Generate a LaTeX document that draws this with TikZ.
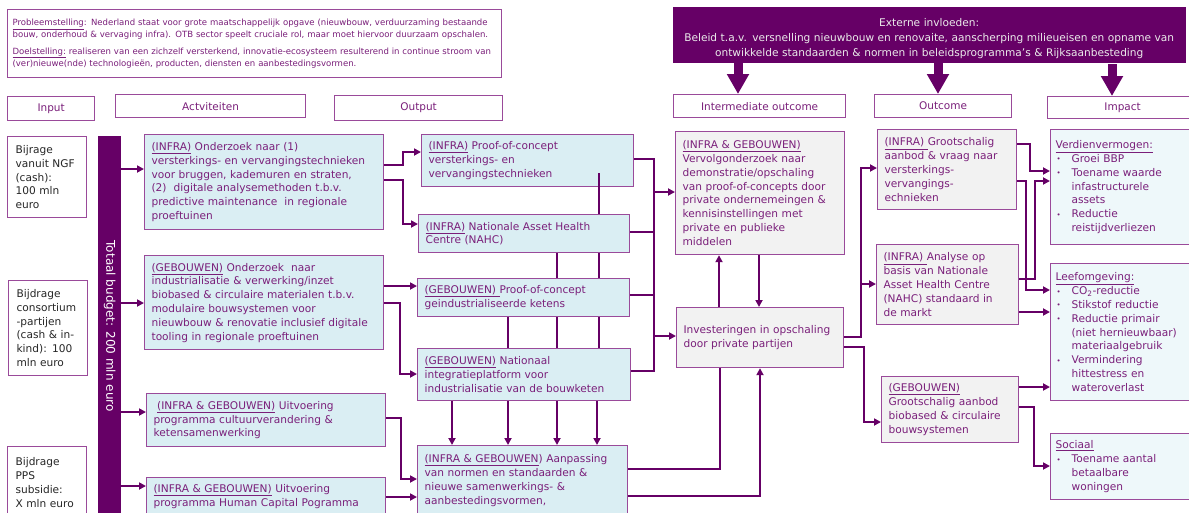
\documentclass[tikz,border=0pt]{standalone}
\usepackage{fontspec}
\setmainfont{DejaVu Sans}
\usetikzlibrary{arrows.meta}
\definecolor{dp}{HTML}{660066}
\definecolor{bord}{HTML}{9A4A9A}
\definecolor{txt}{HTML}{7A1F7A}
\definecolor{cy}{HTML}{DAEEF3}
\definecolor{gr}{HTML}{F2F2F2}
\definecolor{cyl}{HTML}{EEF8FA}
\newcommand\bl{\makebox[16pt][l]{\hspace{1pt}\raisebox{0.1ex}{\scriptsize •}}}
\newcommand\ii{\hspace*{16pt}}
\tikzset{
 bx/.style={draw=bord, line width=1.2pt, fill=#1, text=txt, align=left, anchor=north west,
   inner xsep=7pt, inner ysep=0pt, font=\fontsize{10.6}{13.8}\selectfont},
 hd/.style={draw=bord, line width=1.2pt, fill=white, text=txt, align=center, anchor=north west,
   inner sep=0pt, font=\fontsize{10.5}{13}\selectfont},
 ln/.style={draw=dp, line width=1.8pt},
 ar/.style={ln, -{Triangle[length=7pt,width=7pt]}},
 big/.style={draw=dp, line width=9pt, -{Triangle[length=20pt,width=21pt]}},
}
\begin{document}
\begin{tikzpicture}[x=1pt,y=-1pt]
\useasboundingbox (0,0) rectangle (1189,512);
\clip (0,0) rectangle (1189,512);
\fill[white] (0,0) rectangle (1189,512);

% top boxes
\node[bx=white, inner xsep=5pt, text width=484pt, minimum height=68pt, font=\fontsize{8.55}{11.8}\selectfont] (prob) at (7,9)
 {\mbox{\underline{Probleemstelling}: Nederland staat voor grote maatschappelijk opgave (nieuwbouw, verduurzaming bestaande}\\
  \mbox{bouw, onderhoud \& vervaging infra). OTB sector speelt cruciale rol, maar moet hiervoor duurzaam opschalen.}\\[5pt]
  \mbox{\underline{Doelstelling:} realiseren van een zichzelf versterkend, innovatie-ecosysteem resulterend in continue stroom van}\\
  \mbox{(ver)nieuwe(nde) technologieën, producten, diensten en aanbestedingsvormen.}};
\node[draw=dp, fill=dp, text=white!92!black, align=center, anchor=north west, inner xsep=4pt, inner ysep=0pt,
  text width=504pt, minimum height=55pt, font=\fontsize{10.6}{14.8}\selectfont] (ext) at (673,7)
 {\rule{0pt}{16pt}Externe invloeden:\\
  Beleid t.a.v. versnelling nieuwbouw en renovaite, aanscherping milieueisen en opname van\\
  ontwikkelde standaarden \& normen in beleidsprogramma’s \& Rijksaanbesteding};

% headers
\node[hd, minimum width=87pt, minimum height=24pt] (hIn) at (7,96) {Input};
\node[hd, minimum width=190pt, minimum height=23pt] (hAct) at (115,94) {Actviteiten};
\node[hd, minimum width=168pt, minimum height=25pt] (hOut) at (334,95) {Output};
\node[hd, minimum width=172pt, minimum height=23pt] (hInt) at (673,94) {Intermediate outcome};
\node[hd, minimum width=137pt, minimum height=23pt] (hOc) at (874,94) {Outcome};
\node[hd, minimum width=150pt, minimum height=22pt] (hImp) at (1047,96) {Impact};

% big arrows
\coordinate (e1) at ([xshift=65pt]ext.south west);
\coordinate (e2) at ([xshift=265pt]ext.south west);
\coordinate (e3) at ([xshift=439pt,yshift=-2pt]ext.south west);
\draw[big] (e1) -- (e1 |- hInt.north);
\draw[big] (e2) -- (e2 |- hOc.north);
\draw[big] (e3) -- (e3 |- hImp.north);

% input
\node[bx=white, text=black!85, inner xsep=8pt, text width=63pt, minimum height=81pt] (in1) at (7,136)
 {Bijrage\\vanuit NGF\\(cash):\\100 mln\\euro};
\node[bx=white, text=black!85, inner xsep=8pt, text width=63pt, minimum height=95pt] (in2) at (8,280)
 {Bijdrage\\consortium\\-partijen\\(cash \& in-\\kind): 100\\mln euro};
\node[bx=white, text=black!85, inner xsep=8pt, text width=63pt, minimum height=72pt] (in3) at (7,446)
 {Bijdrage\\PPS\\subsidie:\\X mln euro};

% budget bar
\node[fill=dp, draw=none, anchor=north west, minimum width=23pt, minimum height=384pt, inner sep=0pt] (bar) at (98,136) {};
\node[rotate=-90, text=white, inner sep=0pt, font=\fontsize{12}{14}\selectfont] (bartxt) at ([yshift=2pt]bar.center) {Totaal budget: 200 mln euro};

% activities
\node[bx=cy, text width=225pt, minimum height=95pt] (A1) at (144,134)
 {\underline{(INFRA)} Onderzoek naar (1)\\versterkings- en vervangingstechnieken\\voor bruggen, kademuren en straten,\\(2)\ \ digitale analysemethoden t.b.v.\\predictive maintenance\ \ in regionale\\proeftuinen};
\node[bx=cy, text width=225pt, minimum height=94pt] (A2) at (144,255)
 {\underline{(GEBOUWEN)} Onderzoek\ \ naar\\industrialisatie \& verwerking/inzet\\biobased \& circulaire materialen t.b.v.\\modulaire bouwsystemen voor\\nieuwbouw \& renovatie inclusief digitale\\tooling in regionale proeftuinen};
\node[bx=cy, text width=225pt, minimum height=53pt] (A3) at (146,393)
 {\ \underline{(INFRA \& GEBOUWEN)} Uitvoering\\programma cultuurverandering \&\\ketensamenwerking};
\node[bx=cy, text width=225pt, minimum height=38pt] (A4) at (146,477)
 {\underline{(INFRA \& GEBOUWEN)} Uitvoering\\programma Human Capital Pogramma};

% outputs
\node[bx=cy, text width=198pt, minimum height=52pt] (O1) at (421,134)
 {\underline{(INFRA)} Proof-of-concept\\versterkings- en\\vervangingstechnieken};
\node[bx=cy, text width=197pt, minimum height=38pt] (O2) at (418,214)
 {\underline{(INFRA)} Nationale Asset Health\\Centre (NAHC)};
\node[bx=cy, text width=198pt, minimum height=38pt] (O3) at (417,278)
 {\underline{(GEBOUWEN)\ }Proof-of-concept\\geindustrialiseerde ketens};
\node[bx=cy, text width=199pt, minimum height=52pt] (O4) at (417,348)
 {\underline{(GEBOUWEN)} Nationaal\\integratieplatform voor\\industrialisatie van de bouwketen};
\node[bx=cy, text width=196pt, minimum height=70pt] (O5) at (417,445)
 {\underline{(INFRA \& GEBOUWEN}) Aanpassing\\van normen en standaarden \&\\nieuwe samenwerkings- \&\\aanbestedingsvormen,};

% intermediate
\node[bx=gr, text width=155pt, minimum height=123pt] (I1) at (675,131)
 {\underline{(INFRA \& GEBOUWEN)}\\Vervolgonderzoek naar\\demonstratie/opschaling\\van proof-of-concepts door\\private ondernemeingen \&\\kennisinstellingen met\\private en publieke\\middelen};
\node[bx=gr, text width=153pt, minimum height=60pt] (I2) at (676,307)
 {Investeringen in opschaling\\door private partijen};

% outcome
\node[bx=gr, text width=125pt, minimum height=80pt] (U1) at (877,129)
 {\underline{(INFRA)\ }Grootschalig\\aanbod \& vraag naar\\versterkings-\\vervangings-\\echnieken};
\node[bx=gr, text width=128pt, minimum height=80pt] (U2) at (876,244)
 {\underline{(INFRA)\ }Analyse op\\basis van Nationale\\Asset Health Centre\\(NAHC) standaard in\\de markt};
\node[bx=gr, text width=123pt, minimum height=66pt] (U3) at (881,376)
 {\underline{(GEBOUWEN)}\\Grootschalig aanbod\\biobased \& circulaire\\bouwsystemen};

% impact
\node[bx=cyl, inner xsep=5pt, text width=140pt, minimum height=115pt] (P1) at (1050,129)
 {\underline{Verdienvermogen:}\\\bl Groei BBP\\\bl Toename waarde\\\ii infastructurele\\\ii assets\\\bl Reductie\\\ii reistijdverliezen};
\node[bx=cyl, inner xsep=5pt, text width=140pt, minimum height=137pt] (P2) at (1050,263)
 {\underline{Leefomgeving:}\\\bl CO\textsubscript{2}-reductie\\\bl Stikstof reductie\\\bl Reductie primair\\\ii (niet hernieuwbaar)\\\ii materiaalgebruik\\\bl Vermindering\\\ii hittestress en\\\ii wateroverlast};
\node[bx=cyl, inner xsep=5pt, text width=140pt, minimum height=66pt] (P3) at (1050,433)
 {\underline{Sociaal}\\\bl Toename aantal\\\ii betaalbare\\\ii woningen};

% bar -> activities
\coordinate (b1) at ([yshift=-35pt]A1.north west);
\coordinate (b2) at ([yshift=-48pt]A2.north west);
\coordinate (b3) at ([yshift=-19pt]A3.north west);
\coordinate (b4) at ([yshift=-9pt]A4.north west);
\draw[ar] (b1 -| bar.east) -- (b1);
\draw[ar] (b2 -| bar.east) -- (b2);
\draw[ar] (b3 -| bar.east) -- (b3);
\draw[ar] (b4 -| bar.east) -- (b4);

% activities -> outputs
\coordinate (a1o) at ([yshift=-31pt]A1.north east);
\coordinate (o1i) at ([yshift=-18pt]O1.north west);
\draw[ar] (a1o) -- ++(19,0) |- (o1i);
\coordinate (a1p) at ([yshift=-46pt]A1.north east);
\coordinate (o2i) at ([yshift=-10pt]O2.north west);
\draw[ar] (a1p) -- ++(19,0) |- (o2i);
\coordinate (o3i) at ([yshift=-8pt]O3.north west);
\draw[ar] (o3i -| A2.east) -- (o3i);
\coordinate (a2o) at ([yshift=-48pt]A2.north east);
\coordinate (o4i) at ([yshift=-26pt]O4.north west);
\draw[ar] (a2o) -- ++(16,0) |- (o4i);
\coordinate (a3o) at ([yshift=-25pt]A3.north east);
\coordinate (o5i) at ([yshift=-34pt]O5.north west);
\draw[ar] (a3o) -- ++(15,0) |- (o5i);
\coordinate (o5j) at ([yshift=-52pt]O5.north west);
\draw[ar] (o5j -| A4.east) -- (o5j);

% vertical links between outputs
\coordinate (x1) at ([xshift=35pt]O5.north west);
\coordinate (x2) at ([xshift=91pt]O5.north west);
\coordinate (x3) at ([xshift=140pt]O5.north west);
\coordinate (x4) at ([xshift=180pt]O5.north west);
\coordinate (x5) at ([xshift=178pt,yshift=14pt]O1.south west);
\draw[ln] (x5) -- (x5 |- O2.north);
\draw[ln] (x3 |- O2.south) -- (x3 |- O3.north);
\draw[ln] (x5 |- O2.south) -- (x5 |- O3.north);
\draw[ln] (x2 |- O3.south) -- (x2 |- O4.north);
\draw[ln] (x3 |- O3.south) -- (x3 |- O4.north);
\draw[ln] (x5 |- O3.south) -- (x5 |- O4.north);
\draw[ar] (x1 |- O4.south) -- (x1);
\draw[ar] (x2 |- O4.south) -- (x2);
\draw[ar] (x3 |- O4.south) -- (x3);
\draw[ar] (x4 |- O4.south) -- (x4);

% outputs -> intermediate
\coordinate (o1r) at ([yshift=-25pt]O1.north east);
\coordinate (tr) at ([xshift=20pt]o1r);
\coordinate (o4r) at ([yshift=-23pt]O4.north east);
\draw[ln] (o1r) -- (tr) -- (tr |- o4r) -- (o4r);
\coordinate (o2r) at ([yshift=-18pt]O2.north east);
\draw[ln] (o2r) -- (o2r -| tr);
\coordinate (o3r) at ([yshift=-17pt]O3.north east);
\draw[ln] (o3r) -- (o3r -| tr);
\coordinate (i1l) at ([yshift=-61pt]I1.north west);
\draw[ar] (i1l -| tr) -- (i1l);
\coordinate (i2l) at ([yshift=-29pt]I2.north west);
\draw[ar] (i2l -| tr) -- (i2l);

% I1 <-> I2
\coordinate (iu) at ([xshift=43pt]I2.north west);
\draw[ar] (iu) -- (iu |- I1.south);
\coordinate (id) at ([xshift=84pt]I1.south west);
\draw[ar] (id) -- (id |- I2.north);

% I2 <-> O5
\coordinate (ib1) at ([xshift=44pt]I2.south west);
\coordinate (o5r1) at ([yshift=-24pt]O5.north east);
\draw[ln] (ib1) |- (o5r1);
\coordinate (ib2) at ([xshift=84pt]I2.south west);
\coordinate (o5r2) at ([yshift=-51pt]O5.north east);
\draw[ar] (o5r2) -| (ib2);

% I2 -> outcomes
\coordinate (i2r1) at ([yshift=-30pt]I2.north east);
\coordinate (t2) at ([xshift=17pt]i2r1);
\coordinate (u1l) at ([yshift=-39pt]U1.north west);
\draw[ar] (i2r1) -- (t2) |- (u1l);
\coordinate (u2l) at ([yshift=-40pt]U2.north west);
\draw[ar] (u2l -| t2) -- (u2l);
\coordinate (i2r2) at ([yshift=-40pt]I2.north east);
\coordinate (u3l) at ([yshift=-46pt]U3.north west);
\draw[ar] (i2r2) -- ++(20,0) |- (u3l);

% outcomes -> impact
\coordinate (u1r1) at ([yshift=-15pt]U1.north east);
\coordinate (p1l1) at ([yshift=-42pt]P1.north west);
\draw[ar] (u1r1) -- ++(13,0) |- (p1l1);
\coordinate (u1r2) at ([yshift=-52pt]U1.north east);
\coordinate (p2l1) at ([yshift=-27pt]P2.north west);
\draw[ar] (u1r2) -- ++(9,0) |- (p2l1);
\coordinate (u2r1) at ([yshift=-35pt]U2.north east);
\coordinate (p1l2) at ([yshift=-52pt]P1.north west);
\draw[ar] (u2r1) -- ++(16,0) |- (p1l2);
\coordinate (p2l2) at ([yshift=-49pt]P2.north west);
\draw[ar] (p2l2 -| U2.east) -- (p2l2);
\coordinate (p2l3) at ([yshift=-124pt]P2.north west);
\draw[ar] (p2l3 -| U3.east) -- (p2l3);
\coordinate (u3r) at ([yshift=-31pt]U3.north east);
\coordinate (p3l) at ([yshift=-33pt]P3.north west);
\draw[ar] (u3r) -- ++(15,0) |- (p3l);
\end{tikzpicture}
\end{document}
